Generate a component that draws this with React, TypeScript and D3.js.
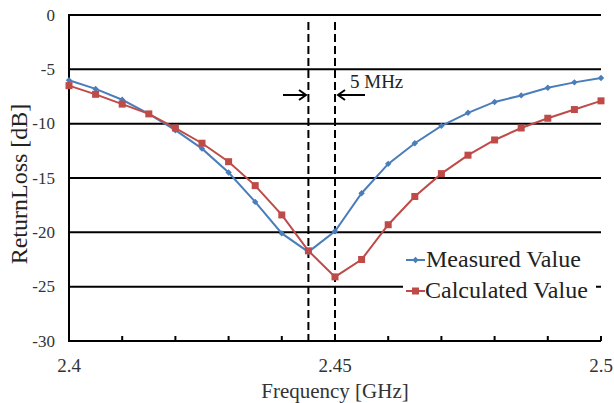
import * as d3 from "d3";

const freqs = [
  2.4, 2.405, 2.41, 2.415, 2.42, 2.425, 2.43, 2.435, 2.44, 2.445, 2.45,
  2.455, 2.46, 2.465, 2.47, 2.475, 2.48, 2.485, 2.49, 2.495, 2.5,
];
const measured = [
  -6.0, -6.8, -7.8, -9.1, -10.6, -12.3, -14.5, -17.2, -20.1, -21.8, -19.9,
  -16.4, -13.7, -11.8, -10.2, -9.0, -8.0, -7.4, -6.7, -6.2, -5.8,
];
const calculated = [
  -6.5, -7.3, -8.2, -9.1, -10.4, -11.8, -13.5, -15.7, -18.4, -21.7, -24.1,
  -22.5, -19.3, -16.7, -14.6, -12.9, -11.5, -10.4, -9.5, -8.7, -7.9,
];
const yTicks = [0, -5, -10, -15, -20, -25, -30];
const xLabels = [2.4, 2.45, 2.5];
const xMinor = [2.41, 2.42, 2.43, 2.44, 2.45, 2.46, 2.47, 2.48, 2.49, 2.5];
const markers = [2.445, 2.45];

const W = 614;
const H = 403;
const M = { top: 15, right: 13, bottom: 62, left: 69 };
const BLUE = "#4a7ebb";
const RED = "#be4b48";

export default function App() {
  const x = d3.scaleLinear().domain([2.4, 2.5]).range([M.left, W - M.right]);
  const y = d3.scaleLinear().domain([-30, 0]).range([H - M.bottom, M.top]);
  const line = d3
    .line<number>()
    .x((_, i) => x(freqs[i]))
    .y((d) => y(d));

  const diamond = (cx: number, cy: number, r = 3.2) =>
    `M${cx},${cy - r}L${cx + r},${cy}L${cx},${cy + r}L${cx - r},${cy}Z`;

  const yb = y(-30);

  return (
    <div style={{ position: "fixed", left: 0, top: 0 }}>
      <svg
        width={W}
        height={H}
        style={{ display: "block", background: "#fff", fontFamily: '"Liberation Serif", "DejaVu Serif", serif' }}
      >
        {/* gridlines */}
        {yTicks.map((t) => (
          <line
            key={t}
            x1={x(2.4)}
            x2={x(2.5)}
            y1={y(t)}
            y2={y(t)}
            stroke="#000"
            strokeWidth={2}
          />
        ))}
        {/* left axis */}
        <line x1={x(2.4)} x2={x(2.4)} y1={y(0) - 1} y2={yb + 1} stroke="#000" strokeWidth={2} />
        {xMinor.map((t) => (
          <line key={t} x1={x(t)} x2={x(t)} y1={yb} y2={yb - 5} stroke="#000" strokeWidth={2} />
        ))}

        {/* y labels */}
        {yTicks.map((t) => (
          <text
            key={t}
            x={55}
            y={y(t)}
            textAnchor="end"
            dominantBaseline="central"
            fontSize={17}
            fill="#333"
          >
            {t}
          </text>
        ))}
        {xLabels.map((t) => (
          <text key={t} x={x(t)} y={372} textAnchor="middle" fontSize={19} fill="#333">
            {t}
          </text>
        ))}
        <text x={x(2.45)} y={398} textAnchor="middle" fontSize={21} fill="#333">
          Frequency [GHz]
        </text>
        <text
          transform={`translate(27,${(y(0) + yb) / 2 + 6}) rotate(-90)`}
          textAnchor="middle"
          fontSize={24}
          fill="#222"
        >
          ReturnLoss [dB]
        </text>

        {/* dashed markers */}
        {markers.map((m) => (
          <line
            key={m}
            x1={x(m)}
            x2={x(m)}
            y1={22}
            y2={yb}
            stroke="#000"
            strokeWidth={2}
            strokeDasharray="8,4"
          />
        ))}
        <g stroke="#000" strokeWidth={2} fill="none">
          <line x1={283} x2={305} y1={95} y2={95} />
          <path d="M299,90L306,95L299,100" />
          <line x1={365} x2={339} y1={95} y2={95} />
          <path d="M345,90L338,95L345,100" />
        </g>
        <text x={350} y={88} fontSize={19} fill="#222">
          5 MHz
        </text>

        {/* series */}
        <path d={line(measured) || ""} fill="none" stroke={BLUE} strokeWidth={2} />
        {measured.map((v, i) => (
          <path key={i} d={diamond(x(freqs[i]), y(v))} fill={BLUE} />
        ))}
        <path d={line(calculated) || ""} fill="none" stroke={RED} strokeWidth={2} />
        {calculated.map((v, i) => (
          <rect key={i} x={x(freqs[i]) - 3.5} y={y(v) - 3.5} width={7} height={7} fill={RED} />
        ))}

        {/* legend */}
        <rect x={403} y={240} width={193} height={62} fill="#fff" />
        <line x1={406} x2={425} y1={260} y2={260} stroke={BLUE} strokeWidth={2} />
        <path d={diamond(415.5, 260)} fill={BLUE} />
        <text x={426} y={267} fontSize={24} fill="#222">
          Measured Value
        </text>
        <line x1={406} x2={425} y1={291} y2={291} stroke={RED} strokeWidth={2} />
        <rect x={412} y={287.5} width={7} height={7} fill={RED} />
        <text x={425} y={298} fontSize={24} fill="#222">
          Calculated Value
        </text>
      </svg>
    </div>
  );
}
